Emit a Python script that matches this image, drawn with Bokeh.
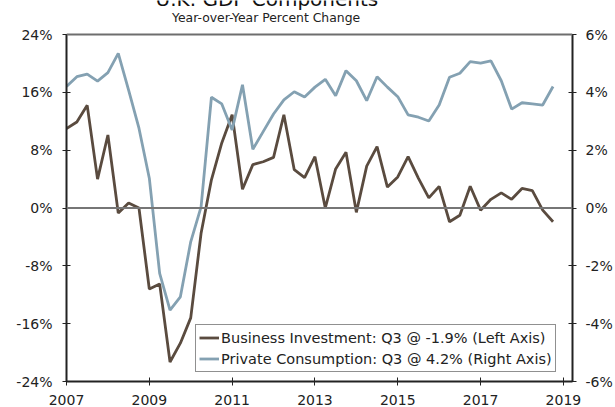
from bokeh.plotting import figure
from bokeh.models import (Range1d, LinearAxis, FixedTicker, PrintfTickFormatter,
                          Span, Label, Legend, LegendItem)
from bokeh.embed import file_html
from bokeh.resources import INLINE

# ---------------- data ----------------
start_year = 2007
business_investment = [
    11.0, 11.9, 14.2, 4.0, 10.1, -0.7, 0.7, 0.0,
    -11.2, -10.5, -21.3, -18.7, -15.2, -3.5, 3.9, 9.0,
    12.9, 2.6, 6.0, 6.4, 7.0, 12.9, 5.3, 4.2,
    7.1, 0.0, 5.4, 7.7, -0.6, 5.8, 8.5, 2.9,
    4.3, 7.1, 4.1, 1.4, 3.0, -1.9, -1.0, 3.0,
    -0.3, 1.2, 2.1, 1.2, 2.7, 2.4, -0.3, -1.9,
]
private_consumption = [
    4.20, 4.54, 4.63, 4.39, 4.68, 5.35, 4.08, 2.76,
    1.03, -2.26, -3.53, -3.07, -1.17, 0.04, 3.83, 3.60,
    2.70, 4.26, 2.03, 2.64, 3.25, 3.74, 4.02, 3.84,
    4.18, 4.45, 3.88, 4.75, 4.40, 3.71, 4.54, 4.18,
    3.85, 3.22, 3.14, 3.01, 3.56, 4.52, 4.66, 5.06,
    5.01, 5.09, 4.40, 3.42, 3.64, 3.60, 3.56, 4.20,
]
quarters = [start_year + i * 0.25 for i in range(len(business_investment))]
left_ticks = [-24, -16, -8, 0, 8, 16, 24]
right_ticks = [-6, -4, -2, 0, 2, 4, 6]
year_ticks = [2007, 2009, 2011, 2013, 2015, 2017, 2019]
title_text = "U.K. GDP Components"
subtitle_text = "Year-over-Year Percent Change"

BROWN = "#5a4b3f"
BLUE = "#84a1b2"
FONT = "DejaVu Sans"

# plot area spans -24..24 (left) / -6..6 (right); extra headroom above for the titles
left_lo, left_hi = -24, 24
right_lo, right_hi = -6, 6
head_px, frame_px = 34, 347
left_top = left_hi + head_px * (left_hi - left_lo) / frame_px
right_top = right_hi + head_px * (right_hi - right_lo) / frame_px

p = figure(width=615, height=411,
           x_range=Range1d(2007, 2019.22), y_range=Range1d(left_lo, left_top),
           output_backend="svg", toolbar_location=None,
           min_border_left=66, min_border_right=42,
           min_border_top=0, min_border_bottom=30,
           margin=(0, 0, -4, 0))
p.extra_y_ranges = {"right": Range1d(right_lo, right_top)}
p.outline_line_color = None
p.background_fill_color = "white"
p.border_fill_color = "white"
p.xgrid.visible = False
p.ygrid.visible = False
p.xaxis.visible = False
p.yaxis.visible = False

def style_axis(ax, standoff):
    ax.axis_line_color = "#222222"
    ax.axis_line_width = 2
    ax.major_tick_line_color = "#222222"
    ax.major_tick_line_width = 1
    ax.major_tick_in = 4
    ax.major_tick_out = 4
    ax.minor_tick_line_color = None
    ax.major_label_text_font = FONT
    ax.major_label_text_font_size = "14px"
    ax.major_label_text_color = "#222222"
    ax.major_label_standoff = standoff

left = LinearAxis(ticker=FixedTicker(ticks=left_ticks), bounds=(left_lo, left_hi),
                  formatter=PrintfTickFormatter(format="%d%%"))
style_axis(left, 10)
p.add_layout(left, "left")

right = LinearAxis(y_range_name="right", ticker=FixedTicker(ticks=right_ticks),
                   bounds=(right_lo, right_hi),
                   formatter=PrintfTickFormatter(format="%d%%"))
style_axis(right, 9)
p.add_layout(right, "right")

bottom = LinearAxis(ticker=FixedTicker(ticks=year_ticks),
                    formatter=PrintfTickFormatter(format="%d"))
style_axis(bottom, 9)
p.add_layout(bottom, "below")

p.add_layout(Span(location=left_hi, dimension="width", line_color="#6e6e6e", line_width=2))
p.add_layout(Span(location=0, dimension="width", line_color="#767676", line_width=2))

r1 = p.line(quarters, business_investment, line_color=BROWN, line_width=2.8)
r2 = p.line(quarters, private_consumption, line_color=BLUE, line_width=2.8,
            y_range_name="right")

legend = Legend(items=[
    LegendItem(label=f"Business Investment: Q3 @ {business_investment[-1]:.1f}% (Left Axis)",
               renderers=[r1]),
    LegendItem(label=f"Private Consumption: Q3 @ {private_consumption[-1]:.1f}% (Right Axis)",
               renderers=[r2]),
], location=(129, 9))
legend.label_text_font = FONT
legend.label_text_font_size = "14.5px"
legend.label_text_color = "#222222"
legend.border_line_color = "#222222"
legend.border_line_width = 1
legend.background_fill_alpha = 1
legend.padding = 3
legend.spacing = 2
legend.glyph_width = 20
legend.glyph_height = 19
legend.label_height = 19
legend.label_standoff = 2
legend.margin = 0
p.add_layout(legend)

p.add_layout(Label(x=2011.84, y=28.95, text=title_text, text_font=FONT,
                   text_font_size="20px", text_align="center",
                   text_baseline="alphabetic", text_color="#111111"))
p.add_layout(Label(x=2011.82, y=26.3, text=subtitle_text, text_font=FONT,
                   text_font_size="12.4px", text_align="center",
                   text_baseline="alphabetic", text_color="#222222"))

open("out.html", "w").write(file_html(p, INLINE))
